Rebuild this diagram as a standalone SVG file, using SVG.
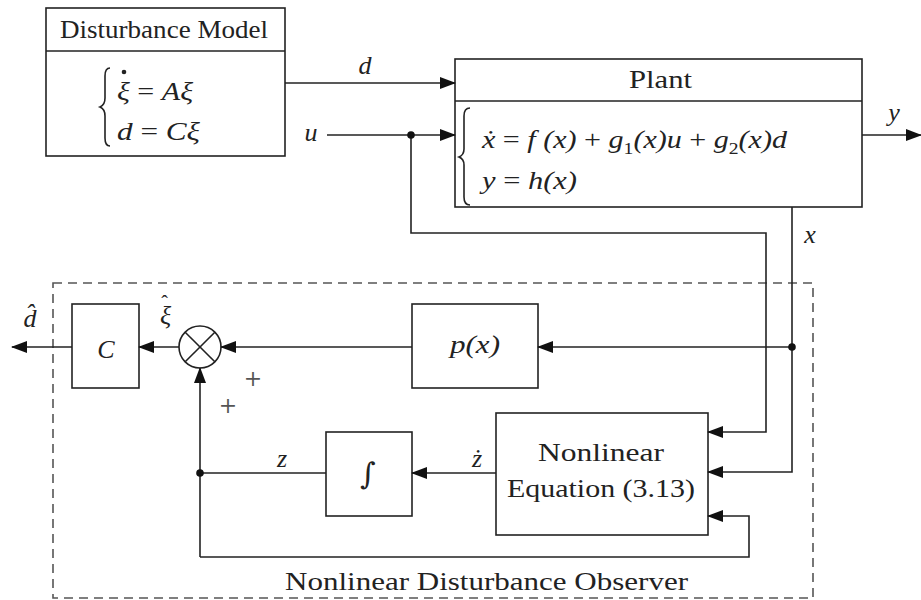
<svg xmlns="http://www.w3.org/2000/svg" width="921" height="600" viewBox="0 0 921 600">
<style>
.box{fill:#fff;stroke:#222;stroke-width:1.6}
.ln{fill:none;stroke:#222;stroke-width:1.6}
.t{font-family:"Liberation Serif","DejaVu Serif",serif;font-size:25px;fill:#222}
.m{font-family:"Liberation Serif","DejaVu Serif",serif;font-size:26px;font-style:italic;fill:#222}
.c{text-anchor:middle}
.dash{fill:none;stroke:#555;stroke-width:1.6;stroke-dasharray:9,6}
.pl{font-family:"DejaVu Serif","Liberation Serif",serif;font-size:22px;fill:#555;text-anchor:middle}
</style>
<defs>
<marker id="ah" markerUnits="userSpaceOnUse" markerWidth="16" markerHeight="12" refX="15" refY="6" orient="auto">
<path d="M0,0 L16,6 L0,12 Z" fill="#111"/>
</marker>
</defs>
<rect class="dash" x="53" y="283" width="760" height="315"/>
<g id="disturbance-model">
<rect class="box" x="46" y="8" width="239" height="148"/>
<line class="ln" x1="46" y1="51" x2="285" y2="51"/>
<text class="t" x="60" y="38" textLength="208" lengthAdjust="spacingAndGlyphs">Disturbance Model</text>
<path class="ln" d="M110,68 Q105,68 105,76 V98 Q105,105 100,107 Q105,109 105,116 V138 Q105,146 110,146" stroke-width="1.2"/>
<text class="m" x="117" y="100" textLength="76" lengthAdjust="spacingAndGlyphs">ξ <tspan font-style="normal">=</tspan> Aξ</text>
<circle cx="124" cy="72" r="2.3" fill="#222"/>
<text class="m" x="117" y="140" textLength="83" lengthAdjust="spacingAndGlyphs">d <tspan font-style="normal">=</tspan> Cξ</text>
</g>
<g id="plant">
<rect class="box" x="455" y="59" width="407" height="148"/>
<line class="ln" x1="455" y1="101" x2="862" y2="101"/>
<text class="t" x="629" y="88" textLength="63" lengthAdjust="spacingAndGlyphs">Plant</text>
<path class="ln" d="M470,108 Q464,108 464,116 V149 Q464,155 459,157 Q464,159 464,165 V197 Q464,205 470,205" stroke-width="1.2"/>
<text class="m" x="482" y="148" textLength="305" lengthAdjust="spacingAndGlyphs">ẋ <tspan font-style="normal">=</tspan> f (x) <tspan font-style="normal">+</tspan> g<tspan font-size="17" dy="6" font-style="normal">1</tspan><tspan dy="-6">(x)u </tspan><tspan font-style="normal">+</tspan> g<tspan font-size="17" dy="6" font-style="normal">2</tspan><tspan dy="-6">(x)d</tspan></text>
<text class="m" x="482" y="189" textLength="95" lengthAdjust="spacingAndGlyphs">y <tspan font-style="normal">=</tspan> h(x)</text>
</g>
<g id="C">
<rect class="box" x="72" y="304" width="67" height="84"/>
<text class="m c" x="106" y="358">C</text>
</g>
<g id="sum">
<circle class="box" cx="200" cy="347" r="21"/>
<line class="ln" x1="185.2" y1="332.2" x2="214.8" y2="361.8"/>
<line class="ln" x1="185.2" y1="361.8" x2="214.8" y2="332.2"/>
</g>
<g id="p">
<rect class="box" x="412" y="304" width="126" height="84"/>
<text class="m" x="450" y="353" textLength="50" lengthAdjust="spacingAndGlyphs">p(x)</text>
</g>
<g id="integrator">
<rect class="box" x="326" y="432" width="86" height="84"/>
<text class="c" x="368" y="484" font-family="DejaVu Serif, serif" font-size="30" fill="#222">∫</text>
</g>
<g id="nonlinear">
<rect class="box" x="496" y="413" width="212" height="122"/>
<text class="t" x="538" y="461" textLength="126" lengthAdjust="spacingAndGlyphs">Nonlinear</text>
<text class="t" x="507" y="497" textLength="188" lengthAdjust="spacingAndGlyphs">Equation (3.13)</text>
</g>
<g id="connectors">
<path class="ln" d="M285,83 H455" marker-end="url(#ah)"/>
<path class="ln" d="M327,135 H455" marker-end="url(#ah)"/>
<path class="ln" d="M862,135 H921" marker-end="url(#ah)"/>
<path class="ln" d="M411,135 V233 H766 V432 H708" marker-end="url(#ah)"/>
<path class="ln" d="M792,207 V472 H708" marker-end="url(#ah)"/>
<path class="ln" d="M792,347 H538" marker-end="url(#ah)"/>
<path class="ln" d="M412,347 H221" marker-end="url(#ah)"/>
<path class="ln" d="M179,347 H139" marker-end="url(#ah)"/>
<path class="ln" d="M72,347 H12" marker-end="url(#ah)"/>
<path class="ln" d="M496,473 H412" marker-end="url(#ah)"/>
<path class="ln" d="M326,473 H200"/>
<path class="ln" d="M200,557 V368" marker-end="url(#ah)"/>
<path class="ln" d="M200,557 H749 V516 H708" marker-end="url(#ah)"/>
<circle cx="411" cy="135" r="3.8" fill="#111"/>
<circle cx="792" cy="347" r="3.8" fill="#111"/>
<circle cx="200" cy="473" r="3.8" fill="#111"/>
</g>
<g id="labels">
<text class="m c" x="365" y="74">d</text>
<text class="m c" x="311" y="141">u</text>
<text class="m c" x="894" y="121">y</text>
<text class="m c" x="810" y="243">x</text>
<text class="m c" x="30" y="327">d̂</text>
<text class="m" x="160" y="324">ξ<tspan font-style="normal" font-size="20" dx="-10" dy="-14">ˆ</tspan></text>
<text class="pl" x="253" y="386">+</text>
<text class="pl" x="228" y="413">+</text>
<text class="m c" x="282" y="467">z</text>
<text class="m c" x="477" y="467">ż</text>
<text class="t" x="285" y="590" textLength="403" lengthAdjust="spacingAndGlyphs">Nonlinear Disturbance Observer</text>
</g>
</svg>
